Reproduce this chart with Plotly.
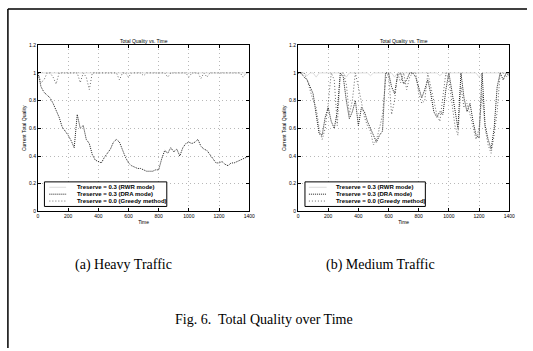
import plotly.graph_objects as go

time = list(range(0, 1401, 20))

# (a) Heavy traffic
heavy_rwr = [1.0] * 71
heavy_dra = [1.0, 0.90, 0.86, 0.84, 0.82, 0.78, 0.73, 0.68, 0.61, 0.58,
             0.55, 0.51, 0.46, 0.70, 0.60, 0.62, 0.52, 0.49, 0.41, 0.37,
             0.36, 0.35, 0.39, 0.42, 0.45, 0.50, 0.52, 0.50, 0.44, 0.39,
             0.35, 0.33, 0.32, 0.31, 0.31, 0.30, 0.29, 0.29, 0.29, 0.30,
             0.30, 0.38, 0.44, 0.42, 0.46, 0.43, 0.45, 0.40, 0.46, 0.49,
             0.50, 0.49, 0.50, 0.52, 0.47, 0.45, 0.44, 0.41, 0.38, 0.35,
             0.35, 0.36, 0.34, 0.33, 0.35, 0.35, 0.36, 0.37, 0.38, 0.39, 0.40]
heavy_greedy = [1.0, 0.93, 0.95, 1.0, 1.0, 0.97, 0.92, 1.0, 1.0, 1.0,
                1.0, 1.0, 1.0, 1.0, 0.93, 1.0, 0.97, 0.88, 1.0, 1.0,
                1.0, 1.0, 1.0, 1.0, 1.0, 1.0, 1.0, 0.95, 1.0, 1.0,
                0.97, 1.0, 1.0, 1.0, 1.0, 0.98, 1.0, 1.0, 1.0, 1.0,
                1.0, 1.0, 1.0, 0.97, 1.0, 1.0, 1.0, 1.0, 1.0, 1.0,
                0.97, 1.0, 1.0, 1.0, 0.96, 1.0, 0.97, 1.0, 1.0, 1.0,
                1.0, 1.0, 1.0, 1.0, 1.0, 1.0, 1.0, 1.0, 0.97, 1.0, 1.0]

# (b) Medium traffic
medium_rwr = [1.0, 1.0, 1.0, 0.98, 1.0, 1.0, 0.97, 1.0, 1.0, 1.0,
              1.0, 1.0, 1.0, 1.0, 1.0, 1.0, 0.97, 1.0, 1.0, 1.0,
              1.0, 1.0, 1.0, 1.0, 0.98, 1.0, 1.0, 1.0, 1.0, 1.0,
              1.0, 1.0, 0.97, 1.0, 1.0, 1.0, 1.0, 1.0, 1.0, 1.0,
              1.0, 1.0, 1.0, 1.0, 1.0, 1.0, 1.0, 0.98, 1.0, 1.0,
              1.0, 1.0, 1.0, 1.0, 1.0, 1.0, 1.0, 1.0, 1.0, 1.0,
              0.97, 1.0, 1.0, 1.0, 1.0, 1.0, 1.0, 1.0, 1.0, 1.0, 1.0]
medium_dra = [1.0, 1.0, 0.97, 0.95, 0.90, 0.85, 0.70, 0.56, 0.55, 0.68,
              0.75, 0.65, 0.60, 0.72, 1.0, 0.97, 0.80, 0.67, 0.72, 0.80,
              0.62, 0.75, 0.72, 0.65, 0.60, 0.55, 0.50, 0.55, 0.58, 1.0,
              1.0, 0.90, 0.85, 0.98, 1.0, 0.92, 0.95, 1.0, 1.0, 0.97,
              0.90, 0.82, 0.88, 0.95, 0.85, 0.72, 0.68, 0.72, 0.70, 0.88,
              1.0, 0.87, 0.72, 0.60, 1.0, 0.82, 0.72, 0.78, 0.65, 0.55,
              0.53, 1.0, 0.62, 0.52, 0.45, 0.60, 0.90, 1.0, 0.95, 1.0, 0.98]
medium_greedy = [1.0, 1.0, 1.0, 0.95, 0.88, 0.80, 0.75, 0.60, 0.52, 0.60,
                 0.78, 1.0, 0.95, 0.62, 0.98, 1.0, 0.92, 0.70, 0.80, 1.0,
                 0.90, 0.80, 0.68, 0.62, 0.58, 0.48, 0.52, 0.60, 0.70, 0.95,
                 1.0, 0.70, 0.80, 1.0, 0.93, 1.0, 0.88, 0.97, 1.0, 1.0,
                 0.85, 0.78, 0.80, 1.0, 0.90, 0.78, 0.70, 0.65, 0.85, 1.0,
                 0.95, 0.80, 0.62, 0.55, 0.90, 0.75, 0.78, 0.70, 0.60, 0.52,
                 0.60, 0.85, 0.60, 0.48, 0.42, 0.55, 0.72, 1.0, 1.0, 0.97, 1.0]

names = ["Treserve = 0.3 (RWR mode)", "Treserve = 0.3 (DRA mode)", "Treserve = 0.0 (Greedy method)"]
x_ticks = [0, 200, 400, 600, 800, 1000, 1200, 1400]
y_ticks = [0, 0.2, 0.4, 0.6, 0.8, 1.0, 1.2]
y_labels = ["0", "0.2", "0.4", "0.6", "0.8", "1", "1.2"]

styles = [
    dict(color="#d4d4d4", width=0.8, dash="solid"),
    dict(color="#1e1e1e", width=1, dash="1px,1px"),
    dict(color="#6a6a6a", width=1, dash="1px,2px"),
]

W, H = 533, 351
fig = go.Figure()

def px(xp):
    return xp / W

def py(yp):
    return 1 - yp / H

panels = [
    ("x", "y", [heavy_rwr, heavy_dra, heavy_greedy]),
    ("x2", "y2", [medium_rwr, medium_dra, medium_greedy]),
]
for xa, ya, series in panels:
    for name, vals, st in zip(names, series, styles):
        fig.add_trace(go.Scatter(x=time, y=vals, mode="lines", name=name,
                                 line=st, xaxis=xa, yaxis=ya, showlegend=False))

tickfont = dict(family="Liberation Sans", size=5, color="black")
axis_common = dict(showline=True, linecolor="black", linewidth=1, mirror="ticks",
                   ticks="inside", ticklen=3, tickcolor="black", tickfont=tickfont,
                   showgrid=True, gridcolor="#b8b8b8", griddash="1px,3px", gridwidth=1,
                   zeroline=False)

xdomA = [px(37.5), px(251.5)]
xdomB = [px(301), px(515)]
ydom = [py(212), py(43)]
title_font = dict(family="Liberation Sans", size=5, color="black")

fig.update_layout(
    width=W, height=H,
    margin=dict(l=0, r=0, t=0, b=0),
    paper_bgcolor="white", plot_bgcolor="white",
    showlegend=False,
    xaxis=dict(domain=xdomA, anchor="y", range=[0, 1400], tickvals=x_ticks,
               title=dict(text="Time", font=title_font, standoff=2), **axis_common),
    yaxis=dict(domain=ydom, anchor="x", range=[0, 1.2], tickvals=y_ticks, ticktext=y_labels,
               title=dict(text="Current Total Quality", font=title_font, standoff=2), **axis_common),
    xaxis2=dict(domain=xdomB, anchor="y2", range=[0, 1400], tickvals=x_ticks,
                title=dict(text="Time", font=title_font, standoff=2), **axis_common),
    yaxis2=dict(domain=ydom, anchor="x2", range=[0, 1.2], tickvals=y_ticks, ticktext=y_labels,
                title=dict(text="Current Total Quality", font=title_font, standoff=2), **axis_common),
)

# panel titles
for cx in [(37.5 + 251.5) / 2, (301 + 515) / 2]:
    fig.add_annotation(x=px(cx), y=py(39), xref="paper", yref="paper", xanchor="center",
                       yanchor="middle", text="Total Quality vs. Time", showarrow=False,
                       font=title_font)

# legend boxes (drawn in paper space), entries from names/styles
legend_boxes = [(44, 168, 182, 207, 49, 66, 75), (308, 430, 182, 207, 312, 330, 337)]
for x0, x1, y0, y1, s0, s1, tx in legend_boxes:
    fig.add_shape(type="rect", xref="paper", yref="paper", x0=px(x0), x1=px(x1),
                  y0=py(y1), y1=py(y0), line=dict(color="black", width=1), fillcolor="white",
                  layer="above")
    for i, (name, st) in enumerate(zip(names, styles)):
        yy = y0 + 5.5 + i * 7
        fig.add_shape(type="line", xref="paper", yref="paper", x0=px(s0), x1=px(s1),
                      y0=py(yy), y1=py(yy), line=st, layer="above")
        fig.add_annotation(x=px(tx), y=py(yy), xref="paper", yref="paper", xanchor="left",
                           yanchor="middle", text="<b>" + name + "</b>", showarrow=False,
                           font=dict(family="Liberation Sans", size=6, color="black"))

serif = dict(family="Liberation Serif", size=14, color="black")
fig.add_annotation(x=px(124), y=py(267), xref="paper", yref="paper", xanchor="center",
                   yanchor="middle", text="(a) Heavy Traffic", showarrow=False, font=serif)
fig.add_annotation(x=px(385), y=py(267), xref="paper", yref="paper", xanchor="center",
                   yanchor="middle", text="(b) Medium Traffic", showarrow=False, font=serif)
fig.add_annotation(x=px(267), y=py(322), xref="paper", yref="paper", xanchor="center",
                   yanchor="middle", text="Fig. 6.  Total Quality over Time", showarrow=False,
                   font=serif)

# page frame lines (scan border)
fig.add_shape(type="line", xref="paper", yref="paper", x0=px(7), x1=px(7), y0=0, y1=py(6),
              line=dict(color="black", width=1.5))
fig.add_shape(type="line", xref="paper", yref="paper", x0=px(7), x1=1, y0=py(6), y1=py(6),
              line=dict(color="black", width=1.5))

fig.write_html("out.html")
